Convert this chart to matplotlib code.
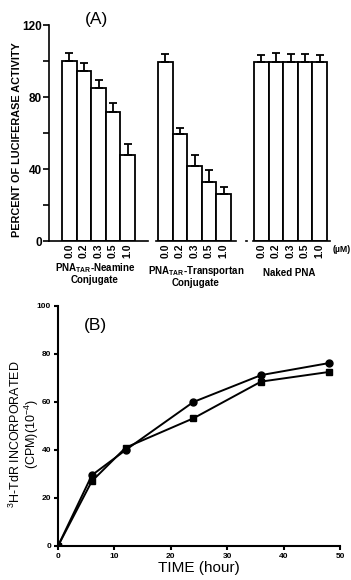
import matplotlib.pyplot as plt
import numpy as np

plt.rcParams['font.family'] = ['Liberation Sans', 'DejaVu Sans']
plt.rcParams['mathtext.fontset'] = 'custom'
plt.rcParams['mathtext.rm'] = 'Liberation Sans'
plt.rcParams['mathtext.bf'] = 'Liberation Sans:bold'
NARROW = ['Liberation Sans Narrow', 'Liberation Sans', 'DejaVu Sans']

# Panel A data
conc_labels = ['0.0', '0.2', '0.3', '0.5', '1.0']
neamine = [100, 94.6, 85.2, 71.5, 47.8]
neamine_err = [4.3, 4.4, 4.2, 5.3, 6.1]
transportan = [99.6, 59.3, 41.8, 33.0, 26.0]
transportan_err = [4.1, 3.7, 6.0, 6.4, 3.8]
naked = [99.5, 99.5, 99.5, 99.5, 99.5]
naked_err = [3.8, 4.9, 4.4, 4.6, 3.6]

# Panel B data
time_h = [0, 6, 12, 24, 36, 48]
circles = [0, 29.5, 40, 60, 71.2, 76.2]
squares = [0, 27, 41, 53.2, 68.5, 72.5]

W, H = 351, 580
fig = plt.figure(figsize=(W / 100, H / 100), dpi=100)

# ---- Panel A ----
ax = fig.add_axes([49 / W, (H - 241) / H, 296 / W, 216 / H])
ax.set_xlim(0, 296)
ax.set_ylim(0, 120)
bw = 14.6
starts = [13, 109, 205]
groups = [(neamine, neamine_err), (transportan, transportan_err), (naked, naked_err)]
xt, xl = [], []
for s, (vals, errs) in zip(starts, groups):
    xs = s + bw / 2 + bw * np.arange(len(vals))
    ax.bar(xs, vals, width=bw, color='white', edgecolor='black', linewidth=1.3)
    ax.errorbar(xs, vals, yerr=[np.zeros(len(errs)), errs], fmt='none',
                ecolor='black', elinewidth=1.3, capsize=3, capthick=1.3)
    xt += list(xs)
    xl += conc_labels
ax.set_xticks(xt)
ax.set_xticklabels(xl, rotation=90, fontsize=7.5, fontweight='bold', family=NARROW)
ax.tick_params(axis='x', length=0, pad=2)
ax.set_yticks([0, 40, 80, 120])
ax.set_yticks([20, 60, 100], minor=True)
ax.tick_params(axis='y', labelsize=8.5, width=1.2, length=4, pad=1)
ax.tick_params(axis='y', which='minor', width=1.2, length=4)
for lab in ax.get_yticklabels():
    lab.set_fontweight('bold')
for sp in ['top', 'right', 'bottom']:
    ax.spines[sp].set_visible(False)
ax.spines['left'].set_linewidth(1.2)
for a, b in [(0, 99), (107, 187), (197, 198), (204, 281)]:
    ax.plot([a, b], [0, 0], color='black', lw=1.2, clip_on=False)
ax.set_ylabel('PERCENT OF LUCIFERASE ACTIVITY', fontsize=7.8, fontweight='bold',
              family=NARROW)
ax.yaxis.set_label_coords(-27 / 296, 0.468)
ax.text(47, 122.8, '(A)', fontsize=12.5, ha='center', va='center')
ax.text(284, -5, '(µM)', fontsize=6.3, fontweight='bold', family=NARROW,
        ha='left', va='center')

lab_kw = dict(fontsize=7, fontweight='bold', family=NARROW, ha='center', va='center')
fig.text(95 / W, (H - 268) / H, r'PNA$_{\mathbf{TAR}}$-Neamine', **lab_kw)
fig.text(95 / W, (H - 280) / H, 'Conjugate', **lab_kw)
fig.text(196 / W, (H - 271) / H, r'PNA$_{\mathbf{TAR}}$-Transportan', **lab_kw)
fig.text(196 / W, (H - 283) / H, 'Conjugate', **lab_kw)
fig.text(289 / W, (H - 273) / H, 'Naked PNA', **lab_kw)

# ---- Panel B ----
bx = fig.add_axes([58 / W, (H - 546) / H, 282 / W, 240 / H])
bx.plot(time_h, circles, color='black', lw=1.4, marker='o', ms=5)
bx.plot(time_h, squares, color='black', lw=1.4, marker='s', ms=5)
bx.set_xlim(0, 50)
bx.set_ylim(0, 100)
bx.set_xticks(range(0, 51, 10))
bx.set_yticks(range(0, 101, 20))
bx.tick_params(labelsize=6, width=1.5, length=3, pad=2)
for lab in bx.get_xticklabels() + bx.get_yticklabels():
    lab.set_fontweight('bold')
for sp in ['top', 'right']:
    bx.spines[sp].set_visible(False)
for sp in ['left', 'bottom']:
    bx.spines[sp].set_linewidth(1.5)
bx.set_xlabel('TIME (hour)', fontsize=11, labelpad=1)
bx.set_ylabel(r'$^{3}$H-TdR INCORPORATED' + '\n' + r'(CPM)(10$^{-4}$)', fontsize=9,
              linespacing=1.0)
bx.yaxis.set_label_coords(-17 / 282, 0.465)
bx.text(6.6, 92, '(B)', fontsize=12.5, ha='center', va='center')

fig.savefig('out.png', dpi=100)
